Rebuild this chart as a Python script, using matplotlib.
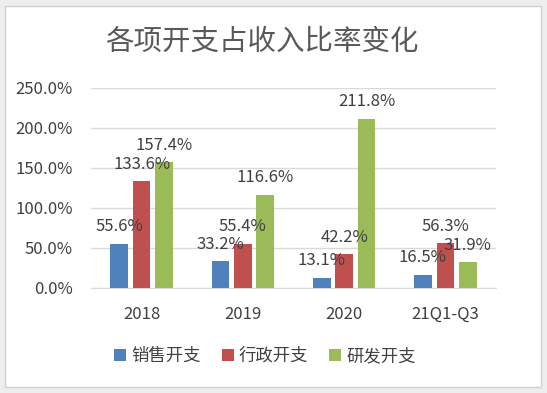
import matplotlib.pyplot as plt
from matplotlib.patches import Rectangle
import numpy as np

plt.rcParams['font.family'] = ['Noto Sans CJK SC', 'DejaVu Sans']

# data
categories = ['2018', '2019', '2020', '21Q1-Q3']
series_names = ['销售开支', '行政开支', '研发开支']
sales = [55.6, 33.2, 13.1, 16.5]
admin = [133.6, 55.4, 42.2, 56.3]
rnd = [157.4, 116.6, 211.8, 31.9]
colors = ['#4F81BD', '#C0504D', '#9BBB59']

fig = plt.figure(figsize=(5.47, 3.93), dpi=100)
fig.patch.set_facecolor('#EEEEEE')

# white card with border, kept behind the axes
card = Rectangle((5 / 547, 6 / 393), 536 / 547, 381 / 393,
                 transform=fig.transFigure, facecolor='white',
                 edgecolor='#D0D0D0', linewidth=1, zorder=-10)
fig.patches.append(card)

ax = fig.add_axes([91 / 547, 1 - 288 / 393, 405 / 547, 200 / 393])
ax.set_facecolor('none')
ax.set_zorder(2)

x = np.arange(len(categories))
width = 0.175
step = 0.222
text_color = '#404040'

for i, (vals, name, c) in enumerate(zip([sales, admin, rnd], series_names, colors)):
    bars = ax.bar(x + (i - 1) * step, vals, width, color=c, label=name, zorder=3)
    for b, v in zip(bars, vals):
        ax.annotate(f'{v:.1f}%', (b.get_x() + b.get_width() / 2, v),
                    xytext=(0, 6), textcoords='offset points',
                    ha='center', va='bottom', fontsize=12, color=text_color, zorder=4)

ax.set_xlim(-0.5, len(categories) - 0.5)
ax.set_ylim(0, 250)
ax.set_yticks(np.arange(0, 251, 50))
ax.set_yticklabels([f'{t:.1f}%' for t in np.arange(0, 251, 50)])
ax.set_xticks(x)
ax.set_xticklabels(categories)
ax.tick_params(axis='y', length=0, pad=13, labelsize=12, labelcolor=text_color)
ax.tick_params(axis='x', length=0, pad=13, labelsize=12, labelcolor=text_color)
ax.grid(axis='y', color='#D9D9D9', linewidth=1, zorder=0)
for side in ['top', 'right', 'left']:
    ax.spines[side].set_visible(False)
ax.spines['bottom'].set_color('#D9D9D9')

fig.text(262 / 547, 1 - 42 / 393, '各项开支占收入比率变化', ha='center', va='center',
         fontsize=20.5, color='#595959')

fig.legend(loc='center', bbox_to_anchor=(265 / 547, 1 - 356 / 393), ncol=3,
           frameon=False, fontsize=12.5, handlelength=0.7, handleheight=0.7,
           handletextpad=0.3, columnspacing=1.2, labelcolor=text_color)

fig.savefig('out.png', dpi=100, facecolor=fig.get_facecolor())
